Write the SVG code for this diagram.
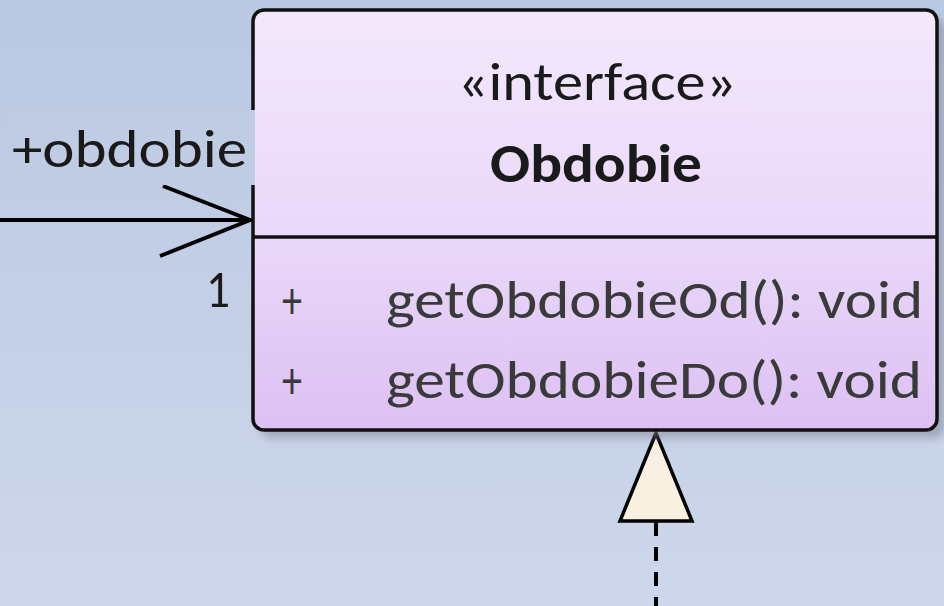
<svg xmlns="http://www.w3.org/2000/svg" width="944" height="606" viewBox="0 0 944 606">
<defs>
<linearGradient id="bg" x1="0" y1="0" x2="0" y2="1">
<stop offset="0" stop-color="#bac8e2"/>
<stop offset="1" stop-color="#ced7eb"/>
</linearGradient>
<linearGradient id="boxfill" gradientUnits="userSpaceOnUse" x1="0" y1="10" x2="0" y2="430">
<stop offset="0" stop-color="#f3e8fc"/>
<stop offset="0.54" stop-color="#ead8f9"/>
<stop offset="1" stop-color="#dcc0f3"/>
</linearGradient>
<filter id="shadow" x="-10%" y="-10%" width="130%" height="130%">
<feGaussianBlur stdDeviation="4"/>
</filter>
<style>
.t{font-family:"Carlito","Lato","Liberation Sans",sans-serif;font-size:54px;fill:#1a1a1a}
.op{fill:#3a3a3a}
.ln{stroke:#000;stroke-width:4;fill:none}
</style>
</defs>
<rect width="944" height="606" fill="url(#bg)"/>
<g id="connectors">
<line class="ln" x1="0" y1="220" x2="250" y2="220"/>
<polyline class="ln" points="163,186 250,220 160,256"/>
<line class="ln" x1="656" y1="522" x2="656" y2="606" stroke-dasharray="14,11" stroke-width="3.5"/>
<polygon points="656,433 620,521 692,521" fill="#faf0e1" stroke="#000" stroke-width="3.5" stroke-linejoin="miter"/>
</g>
<g id="obdobie">
<rect x="261" y="18" width="684" height="420" rx="11" fill="#7f8494" opacity="0.55" filter="url(#shadow)"/>
<rect x="253" y="10" width="684" height="420" rx="11" fill="url(#boxfill)" stroke="#111" stroke-width="3.5"/>
<line x1="253" y1="237" x2="937" y2="237" stroke="#111" stroke-width="3.5"/>
<text class="t" x="597" y="100" text-anchor="middle" textLength="279" lengthAdjust="spacingAndGlyphs">«interface»</text>
<text class="t" x="596" y="182" text-anchor="middle" font-weight="bold" textLength="212" lengthAdjust="spacingAndGlyphs">Obdobie</text>
<text class="t op" x="282" y="318" textLength="20" lengthAdjust="spacingAndGlyphs">+</text>
<text class="t op" x="386" y="318" textLength="537" lengthAdjust="spacingAndGlyphs">getObdobieOd(): void</text>
<text class="t op" x="282" y="398" textLength="20" lengthAdjust="spacingAndGlyphs">+</text>
<text class="t op" x="386" y="398" textLength="536" lengthAdjust="spacingAndGlyphs">getObdobieDo(): void</text>
</g>
<g id="labels">
<rect x="10" y="110" width="245" height="75" fill="#bfcce4"/>
<text class="t" x="12" y="167" textLength="235" lengthAdjust="spacingAndGlyphs">+obdobie</text>
<text class="t" x="206" y="307" textLength="24" lengthAdjust="spacingAndGlyphs">1</text>
</g>
</svg>
